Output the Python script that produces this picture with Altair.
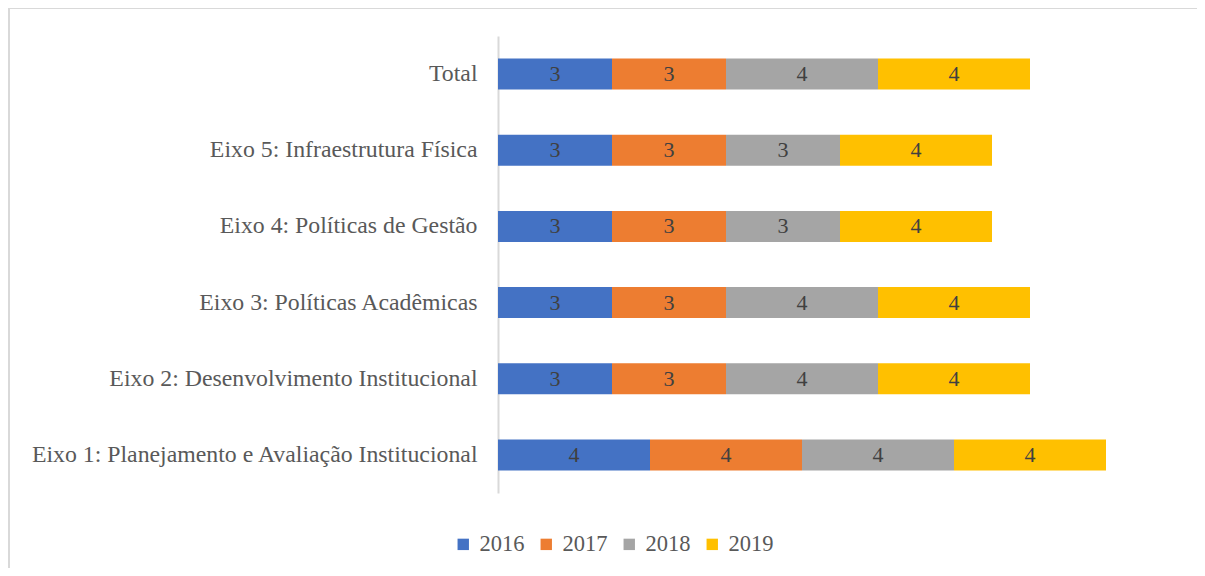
import altair as alt
import pandas as pd

categories = [
    "Total",
    "Eixo 5: Infraestrutura Física",
    "Eixo 4: Políticas de Gestão",
    "Eixo 3: Políticas Acadêmicas",
    "Eixo 2: Desenvolvimento Institucional",
    "Eixo 1: Planejamento e Avaliação Institucional",
]
years = ["2016", "2017", "2018", "2019"]
v2016 = [3, 3, 3, 3, 3, 4]
v2017 = [3, 3, 3, 3, 3, 4]
v2018 = [4, 3, 3, 4, 4, 4]
v2019 = [4, 4, 4, 4, 4, 4]
colors = ["#4472C4", "#ED7D31", "#A5A5A5", "#FFC000"]

rows = []
for series, yr in zip([v2016, v2017, v2018, v2019], years):
    for c, v in zip(categories, series):
        rows.append({"cat": c, "year": yr, "value": v, "ord": int(yr)})
df = pd.DataFrame(rows)

FONT = "Liberation Serif"

base = alt.Chart(df).transform_stack(
    stack="value", groupby=["cat"], as_=["x0", "x1"],
    sort=[alt.SortField("ord", order="ascending")]
).transform_calculate(mid="(datum.x0 + datum.x1) / 2")

yenc = alt.Y(
    "cat:N", sort=categories, title=None,
    scale=alt.Scale(paddingInner=0.593, paddingOuter=0.2965),
    axis=alt.Axis(
        domainColor="#d9d9d9", domainWidth=2, ticks=False,
        labelFont=FONT, labelFontSize=23.8, labelColor="#595959",
        labelPadding=21, labelLimit=700,
    ),
)

bars = base.mark_bar().encode(
    x=alt.X("x0:Q", scale=alt.Scale(domain=[0, 18], nice=False), axis=None),
    x2="x1:Q",
    y=yenc,
    color=alt.Color(
        "year:N", scale=alt.Scale(domain=years, range=colors), title=None,
        legend=alt.Legend(
            orient="none", legendX=-46, legendY=497, direction="horizontal",
            symbolType="square", symbolSize=130, symbolStrokeWidth=0,
            labelFont=FONT, labelFontSize=22.5, labelColor="#595959",
            columnPadding=10, labelOffset=5,
        ),
    ),
)

texts = base.mark_text(font=FONT, fontSize=22, color="#404040").encode(
    x=alt.X("mid:Q", scale=alt.Scale(domain=[0, 18], nice=False), axis=None),
    y=alt.Y("cat:N", sort=categories),
    text="value:Q",
)

border_left = alt.Chart(pd.DataFrame({"a": [0]})).mark_rule(
    color="#d9d9d9", strokeWidth=2
).encode(x=alt.value(-489), y=alt.value(-28), y2=alt.value(545))

border_top = alt.Chart(pd.DataFrame({"a": [0]})).mark_rule(
    color="#d9d9d9", strokeWidth=2
).encode(x=alt.value(-490), x2=alt.value(740), y=alt.value(-28))

chart = alt.layer(border_left, border_top, bars, texts).properties(
    width=684, height=457,
    background="white",
    autosize=alt.AutoSizeParams(type="none"),
    padding={"left": 490, "top": 28, "right": 15, "bottom": 75},
).configure_view(strokeWidth=0)

chart.save("out.html", embed_options={"renderer": "svg", "actions": False})
